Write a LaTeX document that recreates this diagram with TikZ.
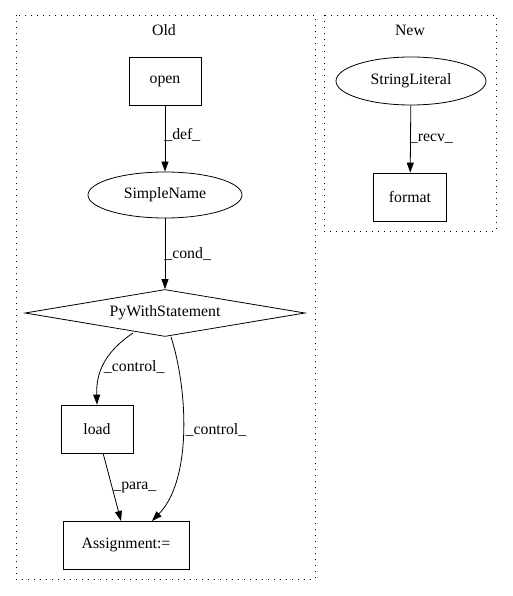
\documentclass[tikz,border=0pt]{standalone}
\usepackage{fontspec}
\setmainfont{Liberation Serif}
\usetikzlibrary{arrows.meta,shapes.geometric}
\begin{document}
\begin{tikzpicture}[x=1pt,y=-1pt,
  every node/.style={font=\fontsize{15.8}{18}\selectfont},
  box/.style={draw,thick,rectangle,inner sep=0pt},
  oval/.style={draw,thick,ellipse,inner sep=0pt},
  cluster/.style={draw,thick,dash pattern=on 1.2pt off 4.8pt},
  edge/.style={draw,thick,-{Triangle[length=10pt,width=7pt]}},
  lbl/.style={inner sep=1pt}]
\useasboundingbox (0,0) rectangle (512,596);
\draw[cluster] (16,15) rectangle (315,579);
\draw[cluster] (324,15) rectangle (496,231);
\node (oldlbl) at (164,30) {Old};
\node (newlbl) at (410,30) {New};
\node[box,minimum width=72pt,minimum height=48pt] (open) at (165,81) {open};
\node[oval,minimum width=154pt,minimum height=46pt] (simple) at (165,195) {SimpleName};
\node[draw,thick,diamond,aspect=6,inner sep=0pt,minimum width=280pt,minimum height=47pt] (with) at (165,313) {PyWithStatement};
\node[box,minimum width=72pt,minimum height=48pt] (load) at (97,429) {load};
\node[box,minimum width=126pt,minimum height=48pt] (assign) at (126,545) {Assignment:=};
\node[oval,minimum width=150pt,minimum height=48pt] (str) at (411,81) {StringLiteral};
\node[box,minimum width=73pt,minimum height=48pt] (format) at (410,197) {format};
\path[edge] (open) -- node[lbl,right,pos=0.45,xshift=-2pt] {\_def\_} (simple);
\path[edge] (simple) -- node[lbl,right,pos=0.5,xshift=-2pt] {\_cond\_} (with);
\path[edge] (133,333) .. controls (105,352) and (96,372) .. node[lbl,pos=0.55,right,xshift=0pt] {\_control\_} (load.north);
\path[edge] (with.south) ++(6,0) .. controls (188,390) and (192,480) .. (152,521);
\node[lbl] (c2) at (216,430) {\_control\_};
\path[edge] (103,453) -- node[lbl,right,pos=0.5] {\_para\_} (121,521);
\path[edge] (str) -- node[lbl,right,pos=0.5,xshift=-2pt] {\_recv\_} (format);
\end{tikzpicture}
\end{document}
